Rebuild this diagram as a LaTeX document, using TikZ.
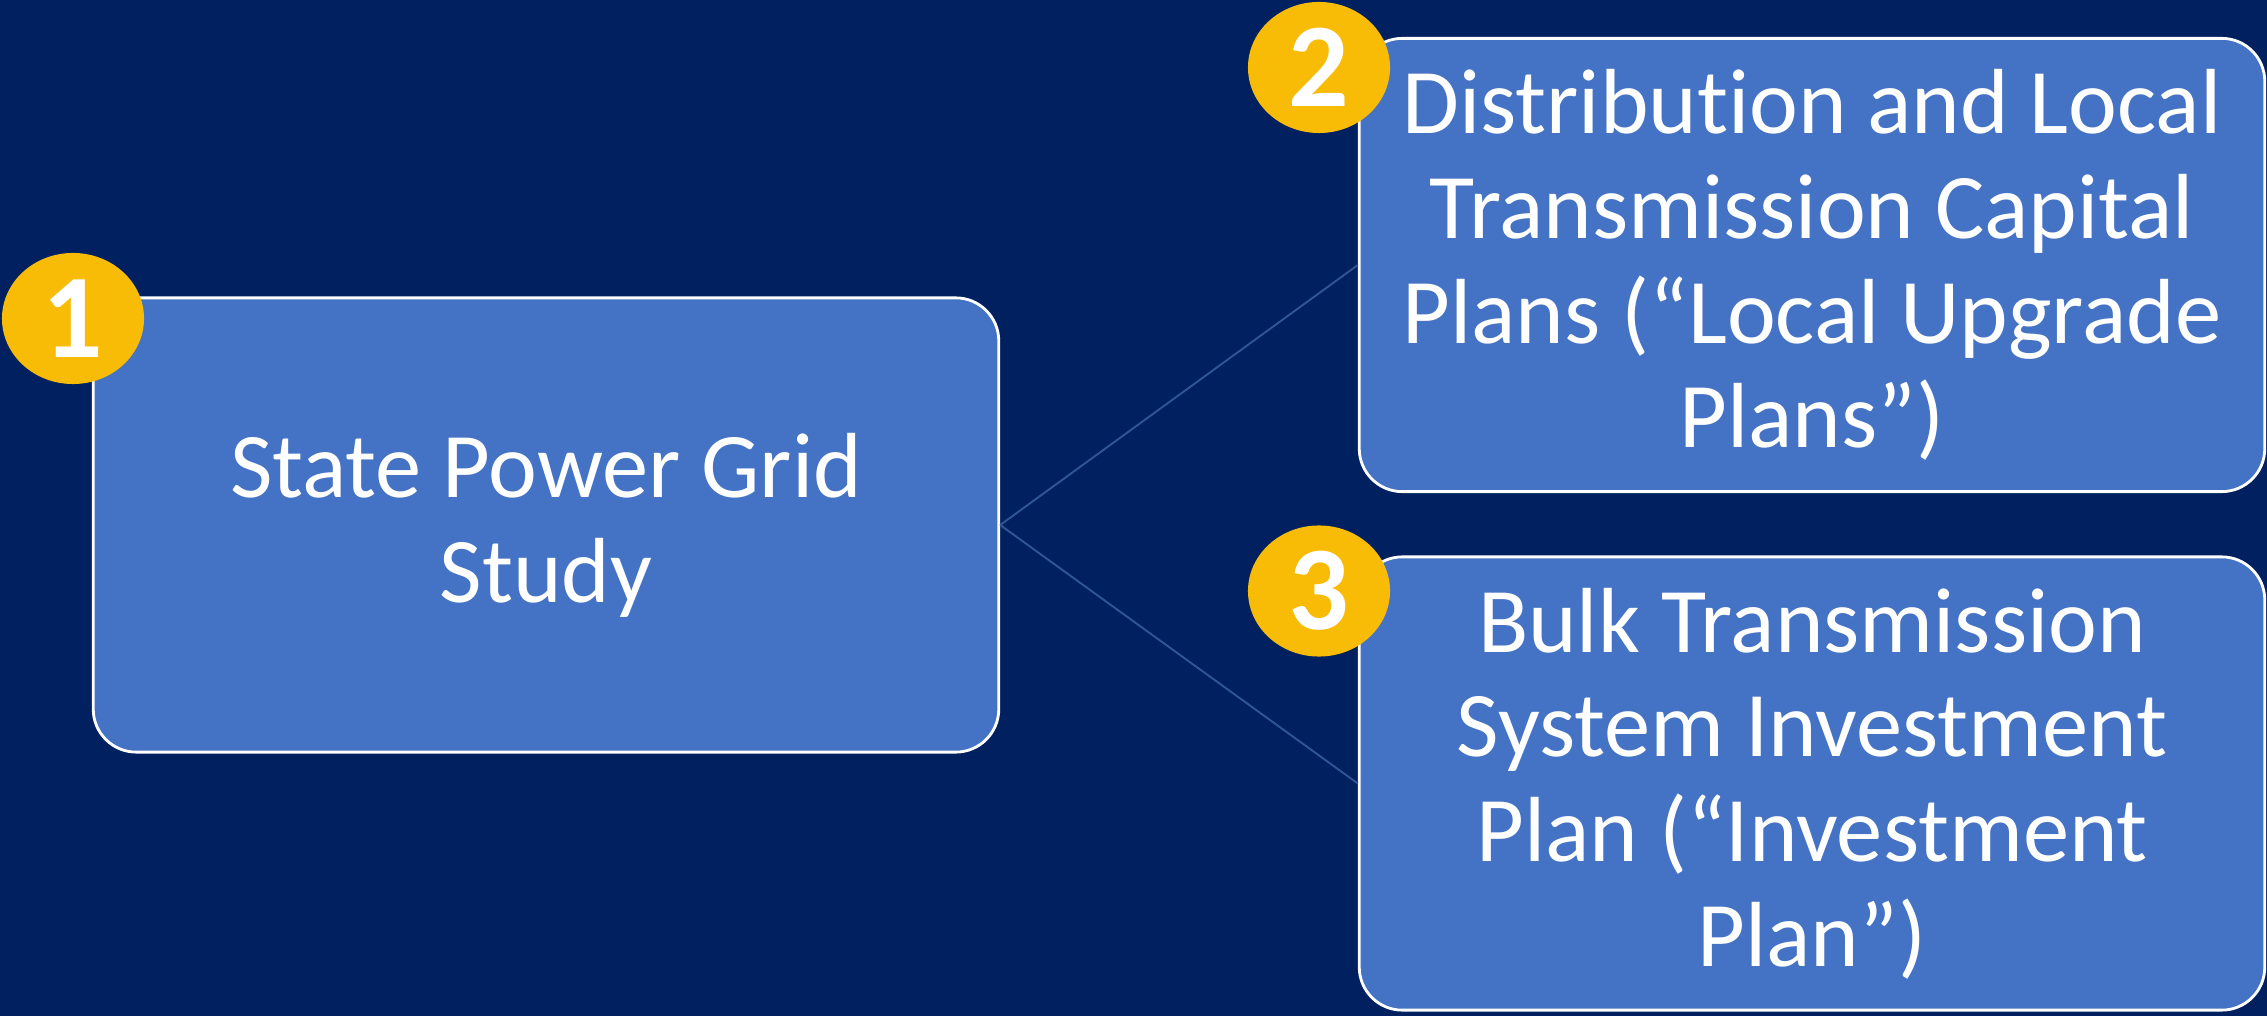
\documentclass[tikz,border=0pt]{standalone}
\usepackage{fontspec}
\setmainfont[RawFeature=-liga]{Carlito}
\usetikzlibrary{shapes.geometric}
\definecolor{bgnavy}{HTML}{002060}
\definecolor{boxblue}{HTML}{4472C4}
\definecolor{badge}{HTML}{F8BB06}
\definecolor{linkblue}{HTML}{2F5597}
\begin{document}
\begin{tikzpicture}[x=0.01cm,y=-0.01cm,
  stagebox/.style={draw=white, line width=0.8pt, fill=boxblue, rounded corners=0.43cm,
    minimum width=9.05cm, minimum height=4.53cm, inner sep=0pt, align=center,
    text=white, font=\fontsize{26.3}{29.8}\selectfont},
  badgenode/.style={ellipse, fill=badge, minimum width=1.42cm, minimum height=1.31cm,
    inner sep=0pt, text=white, font=\fontsize{34}{34}\selectfont\bfseries},
  link/.style={draw=linkblue, line width=0.55pt}]
\useasboundingbox[fill=bgnavy] (0,0) rectangle (2267,1016);
\node[stagebox, minimum height=4.54cm] (study) at (546,525) {State Power Grid\\Study};
\node[stagebox] (local) at (1812,265) {Distribution and Local\\Transmission Capital\\Plans (“Local Upgrade\\Plans”)};
\node[stagebox] (bulk) at (1812,783.5) {Bulk Transmission\\System Investment\\Plan (“Investment\\Plan”)};
\draw[link] (study.east) -- (local.west);
\draw[link] (study.east) -- (bulk.west);
\node[badgenode] (b1) at (73,318.5) {1};
\node[badgenode] (b2) at (1319,67.5) {2};
\node[badgenode] (b3) at (1319,591) {3};
\end{tikzpicture}
\end{document}
